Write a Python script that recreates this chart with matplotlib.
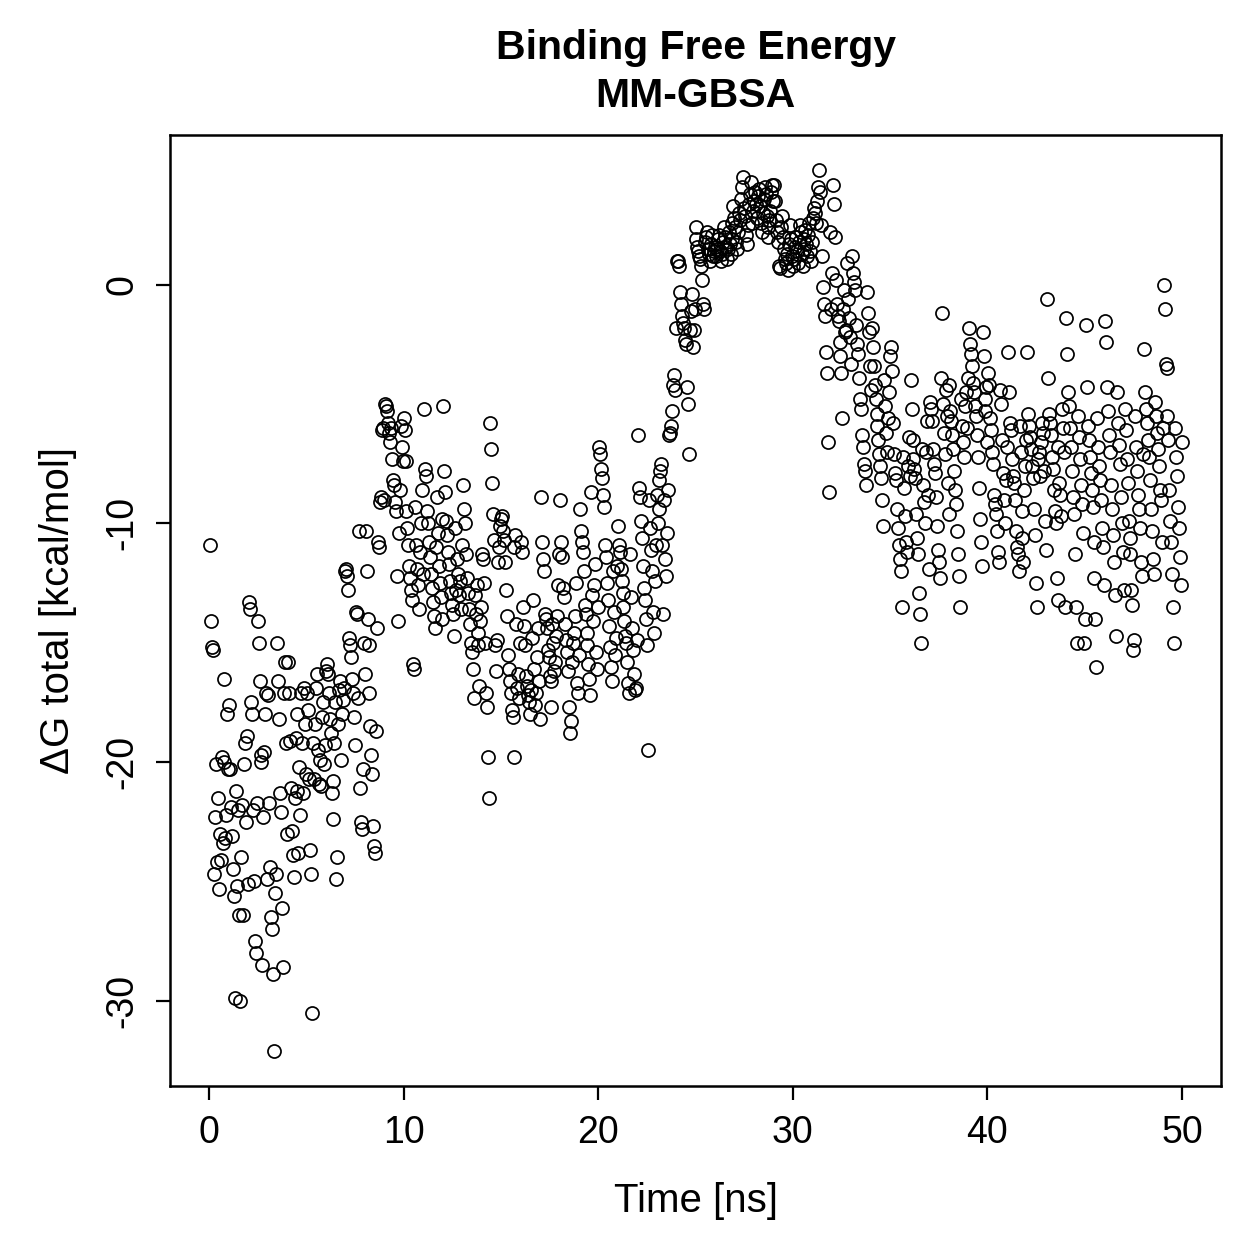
import numpy as np
import matplotlib
matplotlib.use("Agg")
import matplotlib.pyplot as plt

plt.rcParams['font.family'] = ['Liberation Sans', 'DejaVu Sans']

# Sampling: one frame every 0.05 ns, 1000 frames (0.05 .. 50 ns)
time_step_ns = 0.05

# Delta G total [kcal/mol], one row per ns (20 frames each)
dg_00_10 = [
    -10.9, -14.1, -15.2, -15.3, -24.7, -22.3, -20.1, -24.2, -21.5, -25.3, -23.0, -24.1, -19.8, -23.4, -20.0, -16.5, -23.2, -22.2, -18.0, -20.3,
    -17.6, -20.3, -21.9, -23.1, -24.5, -25.6, -29.9, -21.2, -25.2, -22.0, -26.4, -30.0, -24.0, -21.8, -26.4, -20.1, -19.2, -22.5, -18.9, -25.1,
    -13.3, -13.6, -17.5, -18.0, -22.0, -25.0, -27.5, -28.0, -21.7, -14.1, -15.0, -16.6, -19.7, -20.0, -28.5, -22.3, -19.6, -18.0, -17.1, -24.9,
    -17.2, -21.7, -24.4, -26.5, -27.0, -28.9, -32.1, -25.5, -24.7, -15.0, -16.6, -18.2, -21.3, -22.1, -26.1, -28.6, -17.1, -15.8, -19.2, -23.0,
    -15.8, -17.1, -19.1, -21.1, -22.9, -23.9, -24.8, -21.5, -19.0, -21.2, -18.0, -23.8, -20.2, -22.2, -17.1, -19.2, -21.3, -16.9, -18.4, -20.5,
    -17.1, -17.8, -20.7, -23.7, -24.7, -30.5, -19.2, -20.7, -18.4, -16.9, -16.3, -19.5, -20.9, -19.9, -21.0, -18.1, -17.5, -20.1, -19.3, -16.2,
    -15.9, -16.3, -17.1, -18.2, -18.8, -21.3, -22.4, -20.8, -19.2, -17.5, -24.9, -24.0, -18.4, -17.0, -16.6, -19.9, -18.0, -17.4, -16.9, -12.0,
    -11.9, -12.2, -12.8, -14.8, -15.1, -15.6, -16.5, -17.1, -18.1, -19.3, -13.7, -13.8, -17.3, -10.3, -21.1, -22.5, -22.8, -20.3, -15.0, -16.3,
    -10.3, -12.0, -14.0, -15.1, -17.1, -18.5, -19.7, -20.5, -22.7, -23.5, -23.8, -18.7, -14.4, -10.8, -11.0, -9.1, -8.9, -6.1, -6.0, -9.0,
    -5.0, -5.1, -5.3, -5.8, -6.2, -6.6, -6.0, -7.3, -8.2, -8.4, -9.1, -9.5, -12.2, -14.1, -10.4, -8.6, -5.9, -6.8, -7.4, -5.6,
]
dg_10_20 = [
    -6.1, -7.4, -9.5, -10.2, -10.9, -11.8, -12.3, -12.8, -13.2, -15.9, -16.1, -9.3, -10.9, -11.9, -12.6, -13.6, -11.2, -10.0, -8.6, -12.1,
    -5.2, -7.7, -8.0, -9.5, -10.0, -10.8, -11.4, -12.1, -12.7, -13.3, -13.9, -14.4, -11.0, -8.9, -10.4, -11.8, -12.5, -13.1, -14.0, -9.8,
    -5.1, -7.8, -8.7, -9.9, -10.5, -11.2, -11.7, -12.4, -12.9, -13.4, -13.8, -14.7, -10.2, -12.8, -11.5, -12.1, -13.0, -12.4, -13.6, -10.9,
    -8.4, -9.4, -10.0, -11.3, -12.3, -12.9, -13.6, -14.2, -15.0, -15.4, -16.1, -17.3, -13.0, -13.8, -12.6, -14.6, -15.1, -16.8, -14.1, -13.5,
    -11.3, -11.5, -12.5, -15.0, -17.1, -17.7, -19.8, -21.5, -5.8, -6.9, -8.3, -9.6, -10.7, -15.1, -16.2, -14.9, -11.6, -11.0, -10.1, -9.8,
    -9.7, -10.3, -10.7, -11.6, -12.8, -13.9, -15.5, -16.1, -16.6, -17.1, -17.8, -18.1, -19.8, -11.0, -10.5, -14.2, -16.9, -16.3, -17.3, -15.0,
    -10.8, -11.2, -13.5, -14.3, -15.1, -16.4, -16.8, -17.2, -17.5, -18.0, -17.0, -14.8, -13.2, -16.1, -17.6, -17.1, -15.6, -14.4, -16.6, -18.2,
    -8.9, -10.8, -11.5, -12.0, -13.8, -14.0, -14.4, -15.3, -15.6, -16.4, -16.6, -17.7, -14.2, -15.0, -16.2, -15.8, -14.7, -13.9, -12.6, -11.3,
    -9.0, -10.8, -11.4, -12.7, -13.1, -14.2, -14.9, -15.4, -16.2, -17.7, -18.8, -18.3, -15.8, -15.0, -14.6, -13.9, -12.5, -16.7, -17.1, -15.5,
    -9.4, -10.3, -10.8, -11.2, -12.0, -13.4, -13.8, -14.6, -15.1, -15.9, -16.5, -17.2, -8.7, -13.0, -14.1, -12.6, -11.7, -15.4, -16.1, -13.5,
]
dg_20_30 = [
    -6.8, -7.1, -7.7, -8.1, -8.8, -9.3, -10.9, -11.4, -12.5, -13.2, -14.3, -15.2, -16.0, -16.6, -12.0, -13.7, -15.5, -14.8, -11.8, -10.1,
    -10.9, -11.2, -11.9, -12.4, -12.9, -13.5, -14.1, -14.7, -15.0, -15.8, -16.7, -17.1, -11.3, -13.1, -14.4, -15.3, -16.3, -17.0, -16.9, -14.9,
    -6.3, -8.5, -8.9, -9.9, -10.6, -11.8, -12.7, -13.2, -14.0, -15.1, -19.5, -9.0, -10.2, -11.1, -12.0, -13.7, -14.6, -12.4, -10.9, -8.8,
    -10.0, -9.4, -8.2, -7.8, -7.5, -10.9, -13.8, -9.0, -11.5, -12.2, -10.4, -8.6, -6.3, -6.2, -5.9, -5.3, -4.2, -3.8, -4.4, -1.8,
    1.0, 1.0, 0.8, -0.3, -0.8, -1.3, -1.6, -1.8, -2.3, -2.5, -4.3, -5.0, -7.1, -1.9, -1.1, -0.4, -2.6, -1.9, -1.0, 2.4,
    1.9, 1.6, 1.4, 1.2, 1.1, 0.8, 0.2, -0.8, -1.0, 1.8, 2.0, 2.2, 1.5, 1.3, 1.0, 1.7, 2.1, 1.2, 1.4, 1.6,
    1.2, 1.5, 1.9, 2.1, 1.4, 1.0, 1.3, 1.8, 2.4, 2.0, 1.6, 1.1, 1.5, 2.2, 1.7, 1.3, 1.9, 2.6, 3.3, 2.8,
    2.4, 1.8, 1.5, 2.2, 3.0, 2.7, 3.6, 4.1, 4.5, 3.2, 2.9, 2.1, 1.7, 2.5, 3.4, 3.8, 4.3, 2.6, 3.1, 3.5,
    3.9, 3.4, 2.8, 3.7, 4.0, 3.3, 2.6, 2.2, 3.0, 3.6, 4.1, 3.8, 2.9, 2.4, 2.0, 2.7, 3.1, 3.9, 4.2, 3.5,
    4.2, 3.5, 2.7, 2.2, 1.8, 0.8, 0.7, 2.4, 2.9, 2.0, 1.5, 1.1, 0.9, 1.3, 0.6, 1.7, 2.5, 1.9, 1.2, 0.8,
]
dg_30_40 = [
    1.1, 1.6, 2.0, 1.4, 0.9, 1.8, 2.5, 2.2, 1.3, 0.8, 1.5, 1.9, 2.3, 1.7, 1.2, 2.1, 2.6, 1.4, 1.0, 1.8,
    2.8, 3.2, 3.0, 2.6, 3.5, 4.1, 4.8, 3.9, 2.5, 1.2, -0.1, -0.8, -1.3, -2.8, -3.7, -6.6, -8.7, 2.2, -1.0, 0.5,
    4.2, 3.4, 2.0, 0.2, -0.8, -1.3, -1.5, -2.4, -3.0, -3.7, -5.6, -1.0, -0.2, -2.0, -1.9, 0.9, -0.6, -1.4, -2.2, -3.3,
    1.2, 0.5, 0.1, -0.2, -1.7, -2.5, -2.9, -3.9, -4.8, -5.2, -6.3, -6.8, -7.5, -7.8, -8.4, -0.3, -1.2, -2.0, -3.4, -4.4,
    -1.8, -2.6, -3.4, -4.2, -4.8, -5.4, -5.9, -6.5, -7.1, -7.6, -8.1, -9.0, -10.1, -4.0, -5.1, -6.2, -7.0, -5.6, -4.5, -3.0,
    -2.6, -3.6, -5.8, -7.1, -7.9, -8.2, -9.4, -10.2, -10.9, -11.5, -12.0, -13.5, -7.2, -8.5, -9.7, -10.8, -11.2, -7.6, -6.4, -8.0,
    -4.0, -5.2, -6.5, -7.3, -7.7, -8.1, -9.6, -10.6, -11.3, -12.9, -13.8, -15.0, -6.9, -8.4, -9.1, -10.0, -7.0, -5.7, -8.8, -11.9,
    -4.9, -5.2, -5.7, -6.9, -7.5, -7.9, -8.9, -10.1, -11.1, -11.6, -12.3, -3.9, -1.2, -5.0, -6.2, -7.1, -4.4, -5.5, -8.3, -9.6,
    -4.2, -5.3, -5.7, -6.3, -6.9, -7.8, -8.6, -9.2, -10.3, -11.3, -12.2, -13.5, -4.8, -5.9, -6.6, -7.2, -5.1, -4.5, -6.0, -3.9,
    -1.8, -2.5, -2.9, -3.4, -4.1, -4.5, -5.1, -5.5, -6.3, -7.2, -8.5, -9.8, -10.8, -11.8, -2.0, -3.0, -4.8, -5.3, -4.3, -6.6,
]
dg_40_50 = [
    -3.7, -4.2, -5.6, -6.1, -7.0, -7.5, -8.8, -9.2, -9.6, -10.3, -11.2, -11.6, -4.4, -5.0, -6.5, -7.9, -9.0, -10.0, -8.2, -6.8,
    -2.8, -4.5, -5.8, -6.1, -7.3, -8.0, -8.3, -9.0, -10.3, -11.0, -11.3, -12.0, -5.9, -7.0, -9.5, -10.6, -11.6, -8.6, -7.6, -6.5,
    -2.8, -5.4, -5.9, -6.4, -6.9, -7.6, -8.1, -9.4, -10.5, -12.5, -13.5, -7.3, -7.0, -8.0, -6.6, -5.8, -6.2, -7.8, -9.9, -11.1,
    -0.6, -3.9, -5.4, -5.8, -6.3, -7.2, -7.7, -8.6, -9.5, -10.0, -12.3, -13.2, -6.8, -8.3, -8.8, -9.7, -5.2, -6.0, -7.0, -13.5,
    -1.4, -2.9, -4.5, -5.1, -6.0, -6.8, -7.8, -8.9, -9.6, -11.3, -13.5, -15.0, -5.5, -6.4, -7.3, -8.4, -9.2, -10.4, -15.0, -14.0,
    -1.7, -4.3, -5.9, -6.5, -7.2, -7.9, -8.6, -9.3, -10.8, -12.3, -14.0, -16.0, -5.6, -6.8, -7.6, -8.2, -9.0, -10.2, -11.0, -12.6,
    -1.5, -2.4, -4.3, -5.3, -6.3, -7.0, -8.4, -9.4, -10.5, -11.6, -13.0, -14.7, -4.5, -5.8, -6.7, -7.5, -8.9, -10.0, -11.2, -12.8,
    -5.2, -6.1, -7.3, -8.3, -9.9, -10.6, -11.3, -12.8, -13.4, -15.3, -14.9, -5.5, -6.8, -7.8, -8.8, -9.4, -10.2, -11.6, -12.2, -7.1,
    -2.7, -4.5, -5.2, -5.8, -6.5, -7.2, -8.2, -9.4, -10.3, -11.5, -12.1, -4.9, -5.5, -6.2, -6.9, -7.6, -8.6, -9.0, -10.8, -6.0,
    0.0, -1.0, -3.3, -3.5, -5.5, -6.5, -8.6, -9.9, -10.8, -12.1, -13.5, -15.0, -6.0, -7.2, -8.0, -9.3, -10.2, -11.4, -12.6, -6.6,
]

x_ticks = [0, 10, 20, 30, 40, 50]
y_ticks = [-30, -20, -10, 0]
title_lines = ["Binding Free Energy", "MM-GBSA"]
x_label = "Time [ns]"
y_label = "\u0394G total [kcal/mol]"

dg = np.array(dg_00_10 + dg_10_20 + dg_20_30 + dg_30_40 + dg_40_50)
time = time_step_ns * np.arange(1, len(dg) + 1)

W = H = 1259
fig = plt.figure(figsize=(W / 100, H / 100), dpi=100)
ax = fig.add_axes([170 / W, 1 - 1086 / H, (1221 - 170) / W, (1086 - 135) / H])

ax.plot(time, dg, linestyle='none', marker='o', markersize=9.4,
        markerfacecolor='none', markeredgecolor='black', markeredgewidth=1.25)

# R-style 4% padding
ax.set_xlim(0 - 0.04 * 50, 50 + 0.04 * 50)
ymin, ymax = dg.min(), dg.max()
yr = ymax - ymin
ax.set_ylim(ymin - 0.04 * yr, ymax + 0.04 * yr)

ax.set_xticks(x_ticks)
ax.set_yticks(y_ticks)
ax.set_xticklabels([str(v) for v in x_ticks])
ax.set_yticklabels([str(v) for v in y_ticks], rotation=90, va='center')
ax.tick_params(axis='both', direction='out', length=10, width=1.6,
               labelsize=27, colors='black')
ax.tick_params(axis='x', pad=11)
ax.tick_params(axis='y', pad=11)
for s in ax.spines.values():
    s.set_linewidth(1.8)

ax.set_xlabel(x_label, fontsize=29, labelpad=22)
ax.set_ylabel(y_label, fontsize=29, labelpad=20)

fig.text(695.5 / W, 1 - 48 / H, title_lines[0], ha='center', va='center',
         fontsize=29.5, fontweight='bold')
fig.text(695.5 / W, 1 - 96 / H, title_lines[1], ha='center', va='center',
         fontsize=29.5, fontweight='bold')

fig.savefig("out.png", dpi=100, facecolor='white')
